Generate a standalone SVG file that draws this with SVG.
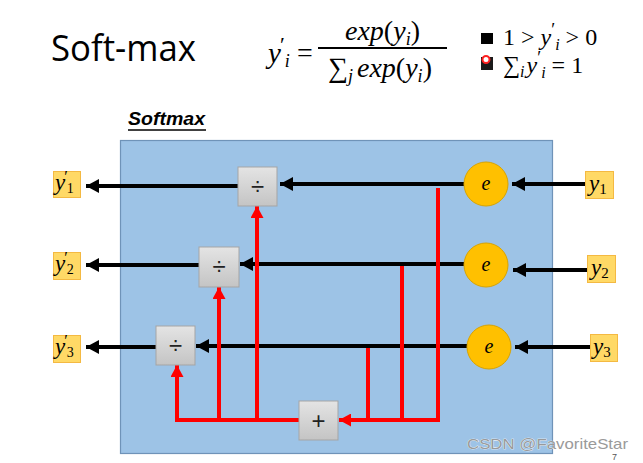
<svg xmlns="http://www.w3.org/2000/svg" width="643" height="463" viewBox="0 0 643 463">
<defs>
<linearGradient id="gbox" x1="0" y1="0" x2="0" y2="1">
<stop offset="0" stop-color="#e4e4e4"/>
<stop offset="1" stop-color="#c4c4c4"/>
</linearGradient>
<marker id="ab" markerUnits="userSpaceOnUse" markerWidth="14" markerHeight="14" refX="13" refY="7" orient="auto">
<path d="M0,0 L13,7 L0,14 Z" fill="#000"/>
</marker>
<marker id="ar" markerUnits="userSpaceOnUse" markerWidth="13" markerHeight="13" refX="12" refY="6.5" orient="auto">
<path d="M0,0 L12,6.5 L0,13 Z" fill="#ff0000"/>
</marker>
</defs>
<style>
.lbl{fill:#ffd966;stroke:#f4b942;stroke-width:1}
.math{font-family:"Liberation Serif","DejaVu Serif",serif;font-style:italic;fill:#000}
.n{font-style:normal}
.op{fill:url(#gbox);stroke:#a5a5a5;stroke-width:1}
.opt{font-family:"Liberation Sans",Arial,sans-serif;font-size:24px;text-anchor:middle;fill:#222}
.exp{fill:#ffc000;stroke:#d9a300;stroke-width:1}
.bk{stroke:#000;stroke-width:4;fill:none;marker-end:url(#ab)}
.rd{stroke:#ff0000;stroke-width:4;fill:none}
.rda{stroke:#ff0000;stroke-width:4;fill:none;marker-end:url(#ar)}
</style>
<rect width="643" height="463" fill="#fff"/>

<g id="header">
<text x="51" y="61" font-family="'Open Sans','Liberation Sans',sans-serif" font-size="36" textLength="145" lengthAdjust="spacingAndGlyphs" fill="#000">Soft-max</text>
<text class="math" x="268" y="63" font-size="29">y<tspan class="n" font-size="22" dy="-11" dx="-1">′</tspan><tspan font-size="18" dy="15" dx="0">i</tspan></text>
<text class="math n" x="297" y="62" font-size="28">=</text>
<line x1="318" y1="48" x2="447" y2="48" stroke="#000" stroke-width="2"/>
<text class="math" x="345" y="40" font-size="28">exp<tspan class="n">(</tspan>y<tspan font-size="18" dy="5">i</tspan><tspan class="n" dy="-5">)</tspan></text>
<text class="math" x="328" y="77" font-size="28"><tspan class="n">∑</tspan><tspan font-size="18" dy="5">j</tspan><tspan dy="-5" dx="4">exp</tspan><tspan class="n">(</tspan>y<tspan font-size="18" dy="5">i</tspan><tspan class="n" dy="-5">)</tspan></text>
<rect x="481" y="33" width="12" height="11" fill="#000"/>
<text class="math" x="503" y="45" font-size="24"><tspan class="n">1 &gt; </tspan>y<tspan class="n" font-size="18" dy="-9">′</tspan><tspan font-size="16" dy="14" dx="0">i</tspan><tspan class="n" dy="-5"> &gt; 0</tspan></text>
<rect x="481" y="57" width="12" height="13" fill="#1a1a1a"/>
<circle cx="486" cy="59.5" r="3.5" fill="#fff" stroke="#ff2020" stroke-width="2"/>
<text class="math" x="503" y="73" font-size="24"><tspan class="n">∑</tspan><tspan font-size="16" dy="4">i</tspan><tspan dy="-4" dx="2">y</tspan><tspan class="n" font-size="18" dy="-9">′</tspan><tspan font-size="16" dy="14" dx="0">i</tspan><tspan class="n" dy="-5">  = 1</tspan></text>
</g>

<g id="title">
<text x="128" y="125" font-family="'Liberation Sans',Arial,sans-serif" font-size="18" font-weight="bold" font-style="italic" textLength="77" lengthAdjust="spacingAndGlyphs" fill="#000">Softmax</text>
<line x1="128" y1="130" x2="206" y2="130" stroke="#000" stroke-width="1.5"/>
</g>

<g id="softmax-box">
<rect x="120.5" y="140.5" width="432" height="313" fill="#9dc3e6" stroke="#6f93b8" stroke-width="1.2"/>
</g>

<g id="connectors">
<line class="bk" x1="585" y1="184" x2="512" y2="184"/>
<line class="bk" x1="464" y1="184" x2="280" y2="184"/>
<line class="bk" x1="238" y1="186" x2="86" y2="186"/>
<line class="bk" x1="587" y1="270" x2="513" y2="270"/>
<line class="bk" x1="464" y1="264" x2="240" y2="264"/>
<line class="bk" x1="199" y1="265" x2="86" y2="265"/>
<line class="bk" x1="590" y1="347" x2="515" y2="347"/>
<line class="bk" x1="467" y1="346" x2="196" y2="346"/>
<line class="bk" x1="156" y1="347" x2="86" y2="347"/>
<line class="rd" x1="438" y1="188" x2="438" y2="422"/>
<line class="rd" x1="402" y1="266" x2="402" y2="422"/>
<line class="rd" x1="368" y1="348" x2="368" y2="422"/>
<line class="rda" x1="440" y1="420" x2="339" y2="420"/>
<polyline class="rda" points="299,420 177,420 177,365"/>
<line class="rda" x1="219" y1="420" x2="219" y2="287"/>
<line class="rda" x1="257" y1="420" x2="257" y2="206"/>
</g>

<g id="e1"><circle class="exp" cx="486" cy="184" r="22"/><text class="math" x="486" y="190" font-size="20" text-anchor="middle">e</text></g>
<g id="e2"><circle class="exp" cx="486" cy="265" r="22"/><text class="math" x="486" y="271" font-size="20" text-anchor="middle">e</text></g>
<g id="e3"><circle class="exp" cx="489" cy="347" r="22"/><text class="math" x="489" y="353" font-size="20" text-anchor="middle">e</text></g>

<g id="div1"><rect class="op" x="238" y="167" width="39" height="39"/><text class="opt" x="257.5" y="195">÷</text></g>
<g id="div2"><rect class="op" x="199" y="247" width="40" height="40"/><text class="opt" x="219" y="275">÷</text></g>
<g id="div3"><rect class="op" x="156" y="326" width="39" height="39"/><text class="opt" x="175.5" y="354">÷</text></g>
<g id="plus"><rect class="op" x="299" y="401" width="39" height="39"/><text class="opt" x="318.5" y="429">+</text></g>

<g id="y1"><rect class="lbl" x="585.5" y="171.5" width="28" height="27"/><text class="math" x="589" y="191" font-size="23">y<tspan class="n" font-size="15" dy="3">1</tspan></text></g>
<g id="y2"><rect class="lbl" x="587.5" y="255.5" width="28" height="27"/><text class="math" x="591" y="275" font-size="23">y<tspan class="n" font-size="15" dy="3">2</tspan></text></g>
<g id="y3"><rect class="lbl" x="590.5" y="334.5" width="27" height="27"/><text class="math" x="593" y="354" font-size="23">y<tspan class="n" font-size="15" dy="3">3</tspan></text></g>

<g id="yp1"><rect class="lbl" x="53.5" y="171.5" width="27" height="26"/><text class="math" x="55" y="190" font-size="23">y<tspan class="n" font-size="16" dy="-8" dx="-1">′</tspan><tspan class="n" font-size="14" dy="11" dx="-1">1</tspan></text></g>
<g id="yp2"><rect class="lbl" x="53.5" y="252.5" width="27" height="27"/><text class="math" x="55" y="271" font-size="23">y<tspan class="n" font-size="16" dy="-8" dx="-1">′</tspan><tspan class="n" font-size="14" dy="11" dx="-1">2</tspan></text></g>
<g id="yp3"><rect class="lbl" x="53.5" y="335.5" width="27" height="27"/><text class="math" x="55" y="354" font-size="23">y<tspan class="n" font-size="16" dy="-8" dx="-1">′</tspan><tspan class="n" font-size="14" dy="11" dx="-1">3</tspan></text></g>

<g id="watermark">
<text x="467" y="449" font-family="'Liberation Sans',Arial,sans-serif" font-size="15" fill="#9a9a9a" stroke="#fff" stroke-width="0.6" paint-order="stroke" textLength="161" lengthAdjust="spacingAndGlyphs">CSDN @FavoriteStar</text>
<text x="612" y="460" font-family="'Liberation Sans',Arial,sans-serif" font-size="9" fill="#555">7</text>
</g>
</svg>
